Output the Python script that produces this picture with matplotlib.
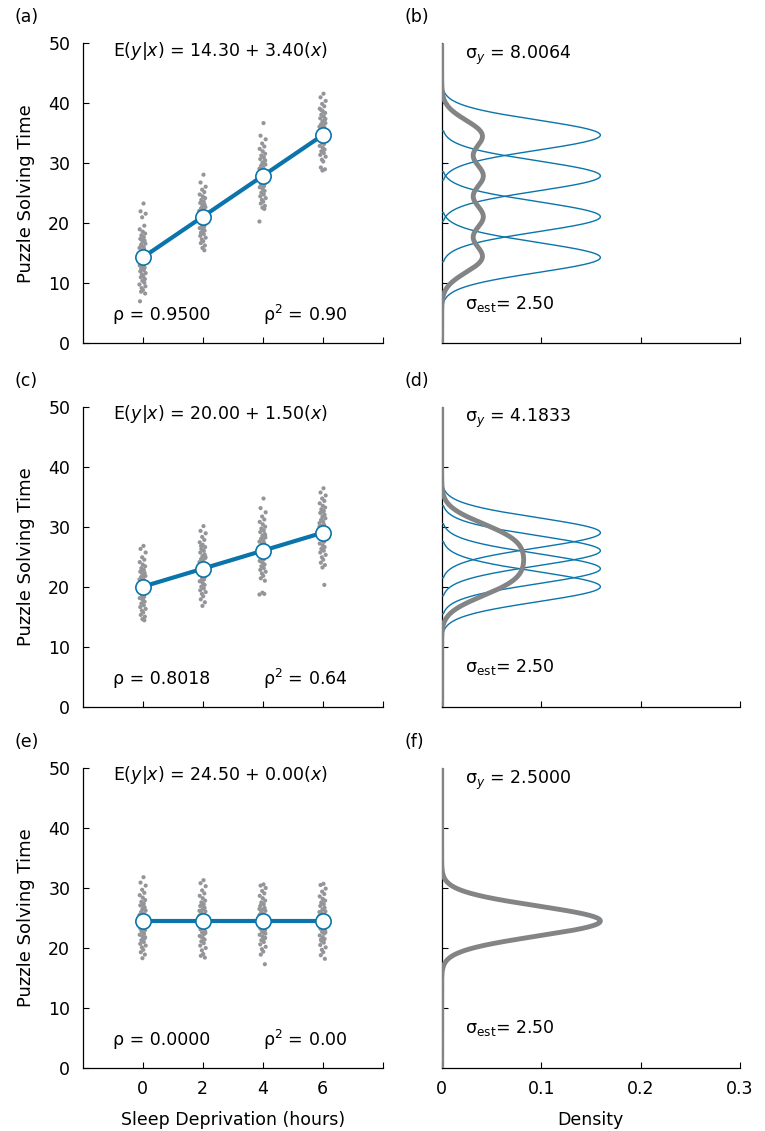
import numpy as np
import matplotlib
matplotlib.use("Agg")
import matplotlib.pyplot as plt

plt.rcParams['font.family'] = ['DejaVu Sans']
plt.rcParams['mathtext.fontset'] = 'dejavusans'

# sleep deprivation levels (hours)
horas = [0, 2, 4, 6]

# group means for each row
medias_a = [14.3, 21.1, 27.9, 34.7]
medias_c = [20.0, 23.0, 26.0, 29.0]
medias_e = [24.5, 24.5, 24.5, 24.5]

sigma_est = 2.5

# texts
equacoes = ["E($\\mathit{y}$|$\\mathit{x}$) = 14.30 + 3.40($\\mathit{x}$)",
            "E($\\mathit{y}$|$\\mathit{x}$) = 20.00 + 1.50($\\mathit{x}$)",
            "E($\\mathit{y}$|$\\mathit{x}$) = 24.50 + 0.00($\\mathit{x}$)"]
rhos = ["0.9500", "0.8018", "0.0000"]
rho2s = ["0.90", "0.64", "0.00"]
sigma_ys = ["8.0064", "4.1833", "2.5000"]

# raw scores (one list per group)
pontos_a = [
    [23.3, 22.0, 21.6, 21.0, 19.6, 19.0, 18.6, 18.3, 18.0, 17.7, 17.4, 17.1, 16.9, 16.6, 16.4, 16.1,
     15.9, 15.7, 15.5, 15.3, 15.1, 14.9, 14.7, 14.5, 14.4, 14.2, 14.0, 13.8, 13.6, 13.4, 13.2, 13.0,
     12.8, 12.6, 12.4, 12.2, 12.0, 11.7, 11.5, 11.2, 11.0, 10.7, 10.4, 10.1, 9.8, 9.5, 9.2, 8.9,
     8.6, 8.3, 7.0, 17.2, 15.4, 13.7, 12.9, 16.0],
    [28.1, 26.8, 26.1, 25.6, 25.2, 24.8, 24.5, 24.2, 23.9, 23.6, 23.4, 23.1, 22.9, 22.7, 22.5, 22.3,
     22.1, 21.9, 21.7, 21.5, 21.3, 21.2, 21.0, 20.8, 20.6, 20.4, 20.2, 20.0, 19.8, 19.6, 19.4, 19.2,
     19.0, 18.8, 18.5, 18.2, 17.9, 17.6, 17.3, 17.0, 16.7, 16.3, 15.9, 15.5, 22.0, 20.9, 19.9, 23.0,
     18.4, 21.6],
    [36.7, 34.6, 34.0, 33.3, 32.8, 32.4, 32.0, 31.6, 31.3, 31.0, 30.7, 30.4, 30.1, 29.8, 29.6, 29.3,
     29.1, 28.9, 28.7, 28.5, 28.3, 28.1, 27.9, 27.7, 27.5, 27.3, 27.1, 26.9, 26.7, 26.5, 26.2, 26.0,
     25.7, 25.4, 25.1, 24.8, 24.5, 24.2, 23.9, 23.6, 23.3, 22.9, 22.6, 22.4, 20.3, 28.6, 27.4, 29.9,
     26.4, 30.5],
    [41.6, 41.0, 40.4, 39.9, 39.5, 39.1, 38.7, 38.4, 38.1, 37.8, 37.5, 37.2, 37.0, 36.7, 36.5, 36.3,
     36.1, 35.9, 35.7, 35.5, 35.3, 35.1, 34.9, 34.7, 34.5, 34.3, 34.1, 33.9, 33.7, 33.4, 33.2, 32.9,
     32.6, 32.3, 32.0, 31.7, 31.4, 31.1, 30.6, 30.3, 29.3, 29.0, 28.8, 36.0, 34.8, 37.4, 33.5, 35.6,
     38.9, 34.0],
]
pontos_c = [
    [26.8, 26.3, 25.7, 24.9, 24.5, 24.1, 23.7, 23.4, 23.1, 22.8, 22.5, 22.3, 22.0, 21.8, 21.6, 21.4,
     21.2, 21.0, 20.8, 20.6, 20.4, 20.2, 20.0, 19.8, 19.6, 19.4, 19.2, 19.0, 18.8, 18.6, 18.3, 18.1,
     17.8, 17.5, 17.2, 16.9, 16.6, 16.3, 16.0, 15.7, 15.3, 15.0, 14.6, 14.4, 20.5, 19.3, 21.5, 18.0,
     22.6, 19.9],
    [30.1, 29.3, 28.9, 28.3, 27.8, 27.4, 27.0, 26.6, 26.3, 26.0, 25.7, 25.4, 25.1, 24.8, 24.6, 24.3,
     24.1, 23.9, 23.7, 23.5, 23.3, 23.1, 22.9, 22.7, 22.5, 22.3, 22.1, 21.9, 21.7, 21.4, 21.2, 20.9,
     20.6, 20.3, 20.0, 19.7, 19.4, 19.1, 18.8, 18.4, 17.9, 17.4, 16.8, 23.6, 22.4, 25.0, 21.0, 24.4,
     26.8, 22.0],
    [34.7, 33.1, 32.4, 31.7, 31.2, 30.8, 30.4, 30.0, 29.7, 29.4, 29.1, 28.8, 28.5, 28.2, 28.0, 27.7,
     27.5, 27.3, 27.1, 26.9, 26.7, 26.5, 26.3, 26.1, 25.9, 25.7, 25.5, 25.3, 25.1, 24.8, 24.6, 24.3,
     24.0, 23.7, 23.4, 23.1, 22.8, 22.5, 22.2, 21.8, 21.4, 21.0, 19.0, 18.8, 18.7, 26.4, 25.2, 27.9,
     24.2, 28.6],
    [36.4, 35.7, 35.2, 34.7, 34.3, 33.9, 33.5, 33.2, 32.9, 32.6, 32.3, 32.0, 31.7, 31.4, 31.1, 30.8,
     30.6, 30.3, 30.1, 29.9, 29.7, 29.5, 29.3, 29.1, 28.9, 28.7, 28.5, 28.3, 28.0, 27.8, 27.5, 27.2,
     26.9, 26.6, 26.3, 26.0, 25.7, 25.3, 24.9, 24.5, 24.0, 23.6, 23.2, 20.3, 30.0, 28.8, 31.2, 27.6,
     32.4, 29.6],
]
pontos_e = [
    [31.8, 30.9, 30.4, 29.7, 29.2, 28.8, 28.4, 28.0, 27.7, 27.4, 27.1, 26.8, 26.5, 26.2, 26.0, 25.7,
     25.5, 25.3, 25.1, 24.9, 24.7, 24.5, 24.3, 24.1, 23.9, 23.7, 23.5, 23.2, 23.0, 22.7, 22.4, 22.2,
     21.9, 21.6, 21.3, 21.0, 20.7, 20.4, 20.1, 19.7, 19.3, 18.9, 18.3, 25.0, 23.8, 26.3, 22.8, 27.2,
     24.4, 21.8],
    [31.3, 30.8, 30.3, 29.6, 29.1, 28.7, 28.3, 27.9, 27.6, 27.3, 27.0, 26.7, 26.4, 26.1, 25.9, 25.6,
     25.4, 25.2, 25.0, 24.8, 24.6, 24.4, 24.2, 24.0, 23.8, 23.6, 23.3, 23.1, 22.8, 22.6, 22.3, 22.0,
     21.7, 21.4, 21.1, 20.8, 20.4, 20.0, 19.6, 19.0, 18.7, 18.4, 24.9, 23.7, 26.2, 22.5, 27.1, 25.3,
     21.9, 24.1],
    [30.6, 30.4, 30.0, 29.5, 29.1, 28.7, 28.3, 27.9, 27.6, 27.3, 27.0, 26.7, 26.4, 26.2, 25.9, 25.7,
     25.5, 25.3, 25.1, 24.9, 24.7, 24.5, 24.3, 24.1, 23.9, 23.7, 23.5, 23.2, 23.0, 22.7, 22.5, 22.2,
     21.9, 21.6, 21.3, 21.0, 20.6, 20.2, 19.8, 19.4, 18.9, 17.3, 25.0, 23.8, 26.5, 22.4, 27.4, 24.4,
     25.8, 21.7],
    [30.7, 30.5, 29.9, 29.4, 29.0, 28.6, 28.2, 27.9, 27.6, 27.3, 27.0, 26.7, 26.4, 26.1, 25.9, 25.6,
     25.4, 25.2, 25.0, 24.8, 24.6, 24.4, 24.2, 24.0, 23.8, 23.6, 23.4, 23.2, 22.9, 22.7, 22.4, 22.1,
     21.8, 21.5, 21.2, 20.9, 20.5, 20.1, 19.7, 19.3, 18.8, 18.2, 24.9, 23.9, 26.0, 22.6, 27.5, 25.3,
     21.4, 24.5],
]

# horizontal jitter of the scatter (x units)
jitter = [0.03, -0.08, 0.11, -0.02, 0.06, -0.11, 0.0, 0.09, -0.05, 0.04, -0.09, 0.07, -0.01, 0.10,
          -0.06, 0.02, -0.12, 0.05, -0.03, 0.08, -0.07, 0.01, 0.12, -0.04, 0.06, -0.10, 0.03, -0.08,
          0.09, -0.02, 0.05, -0.11, 0.00, 0.07, -0.05, 0.04, -0.09, 0.11, -0.03, 0.02, -0.07, 0.08,
          -0.01, 0.06, -0.12, 0.10, -0.04, 0.01, -0.06, 0.09, -0.10, 0.04, -0.02, 0.07, -0.08, 0.03,
          0.12, -0.05, 0.00, 0.05]

azul = '#0a74ab'
cinza_pontos = '#949598'
cinza_linha = '#838486'
fs = 12.5

W, H = 765, 1131
fig = plt.figure(figsize=(W / 100, H / 100), dpi=100)


def ax_px(x0, y_top, w, h):
    return fig.add_axes([x0 / W, 1 - (y_top + h) / H, w / W, h / H])


def normal_pdf(y, m, s):
    return np.exp(-0.5 * ((y - m) / s) ** 2) / (s * np.sqrt(2 * np.pi))


linhas = [(43.3, medias_a, pontos_a, '(a)', '(b)'),
          (406.7, medias_c, pontos_c, '(c)', '(d)'),
          (768.0, medias_e, pontos_e, '(e)', '(f)')]

for i, (topo, medias, pontos, lab_esq, lab_dir) in enumerate(linhas):
    ultima = (i == 2)

    # ---- left panel: scatter + means ----
    ax = ax_px(82.7, topo, 300, 300)
    for h, grupo in zip(horas, pontos):
        xs = [h + 0.9 * j for j in jitter[:len(grupo)]]
        ax.scatter(xs, grupo, s=9, color=cinza_pontos, edgecolors='none', zorder=2)
    ax.plot(horas, medias, color=azul, lw=3.0, zorder=3)
    ax.plot(horas, medias, 'o', ms=11, mfc='white', mec=azul, mew=1.2, zorder=4)
    ax.set_xlim(-2, 8)
    ax.set_ylim(0, 50)
    ax.set_xticks([0, 2, 4, 6, 8])
    ax.set_yticks([0, 10, 20, 30, 40, 50])
    if ultima:
        ax.set_xticklabels(['0', '2', '4', '6', ''])
        ax.set_xlabel('Sleep Deprivation (hours)', fontsize=fs, labelpad=9)
    else:
        ax.set_xticklabels([])
    ax.set_ylabel('Puzzle Solving Time', fontsize=13)
    ax.yaxis.set_label_coords(-0.158, 0.5)
    ax.tick_params(direction='in', length=4, width=0.8, labelsize=fs, pad=9)
    for lado in ['top', 'right']:
        ax.spines[lado].set_visible(False)
    for lado in ['left', 'bottom']:
        ax.spines[lado].set_linewidth(0.9)
    ax.text(-1, 48.8, equacoes[i], fontsize=fs, va='center', ha='left')
    ax.text(-1, 4.7, 'ρ = ' + rhos[i], fontsize=fs, va='center', ha='left')
    ax.text(4, 4.7, 'ρ$^2$ = ' + rho2s[i], fontsize=fs, va='center', ha='left')
    fig.text(14 / W, 1 - (topo - 26) / H, lab_esq, fontsize=fs, va='center', ha='left')

    # ---- right panel: densities ----
    axd = ax_px(441.7, topo, 298.3, 300)
    if i < 2:
        for m in medias:
            yy = np.linspace(m - 3 * sigma_est, m + 3 * sigma_est, 300)
            dens = np.concatenate([[0], normal_pdf(yy, m, sigma_est), [0]])
            yy = np.concatenate([[yy[0]], yy, [yy[-1]]])
            axd.plot(dens, yy, color=azul, lw=1.0, zorder=2.6)
    yy = np.linspace(0, 50, 800)
    mistura = np.mean([normal_pdf(yy, m, sigma_est) for m in medias], axis=0)
    axd.plot(mistura, yy, color=cinza_linha, lw=3.5, zorder=3, solid_capstyle='butt')
    axd.set_xlim(0, 0.3)
    axd.set_ylim(0, 50)
    axd.set_xticks([0, 0.1, 0.2, 0.3])
    axd.set_yticks([10, 20, 30, 40])
    axd.set_yticklabels([])
    if ultima:
        axd.set_xticklabels(['0', '0.1', '0.2', '0.3'])
        axd.set_xlabel('Density', fontsize=fs, labelpad=9)
    else:
        axd.set_xticklabels([])
    axd.tick_params(direction='in', length=4, width=0.8, labelsize=fs, pad=9)
    for lado in ['top', 'right']:
        axd.spines[lado].set_visible(False)
    for lado in ['left', 'bottom']:
        axd.spines[lado].set_linewidth(0.9)
    axd.text(0.023, 48, 'σ$_{\\mathit{y}}$ = ' + sigma_ys[i], fontsize=fs, va='center', ha='left')
    axd.text(0.023, 6.6, 'σ$_{\\mathrm{est}}$= 2.50', fontsize=fs, va='center', ha='left')
    fig.text(405 / W, 1 - (topo - 26) / H, lab_dir, fontsize=fs, va='center', ha='left')

fig.savefig('out.png', dpi=100)
